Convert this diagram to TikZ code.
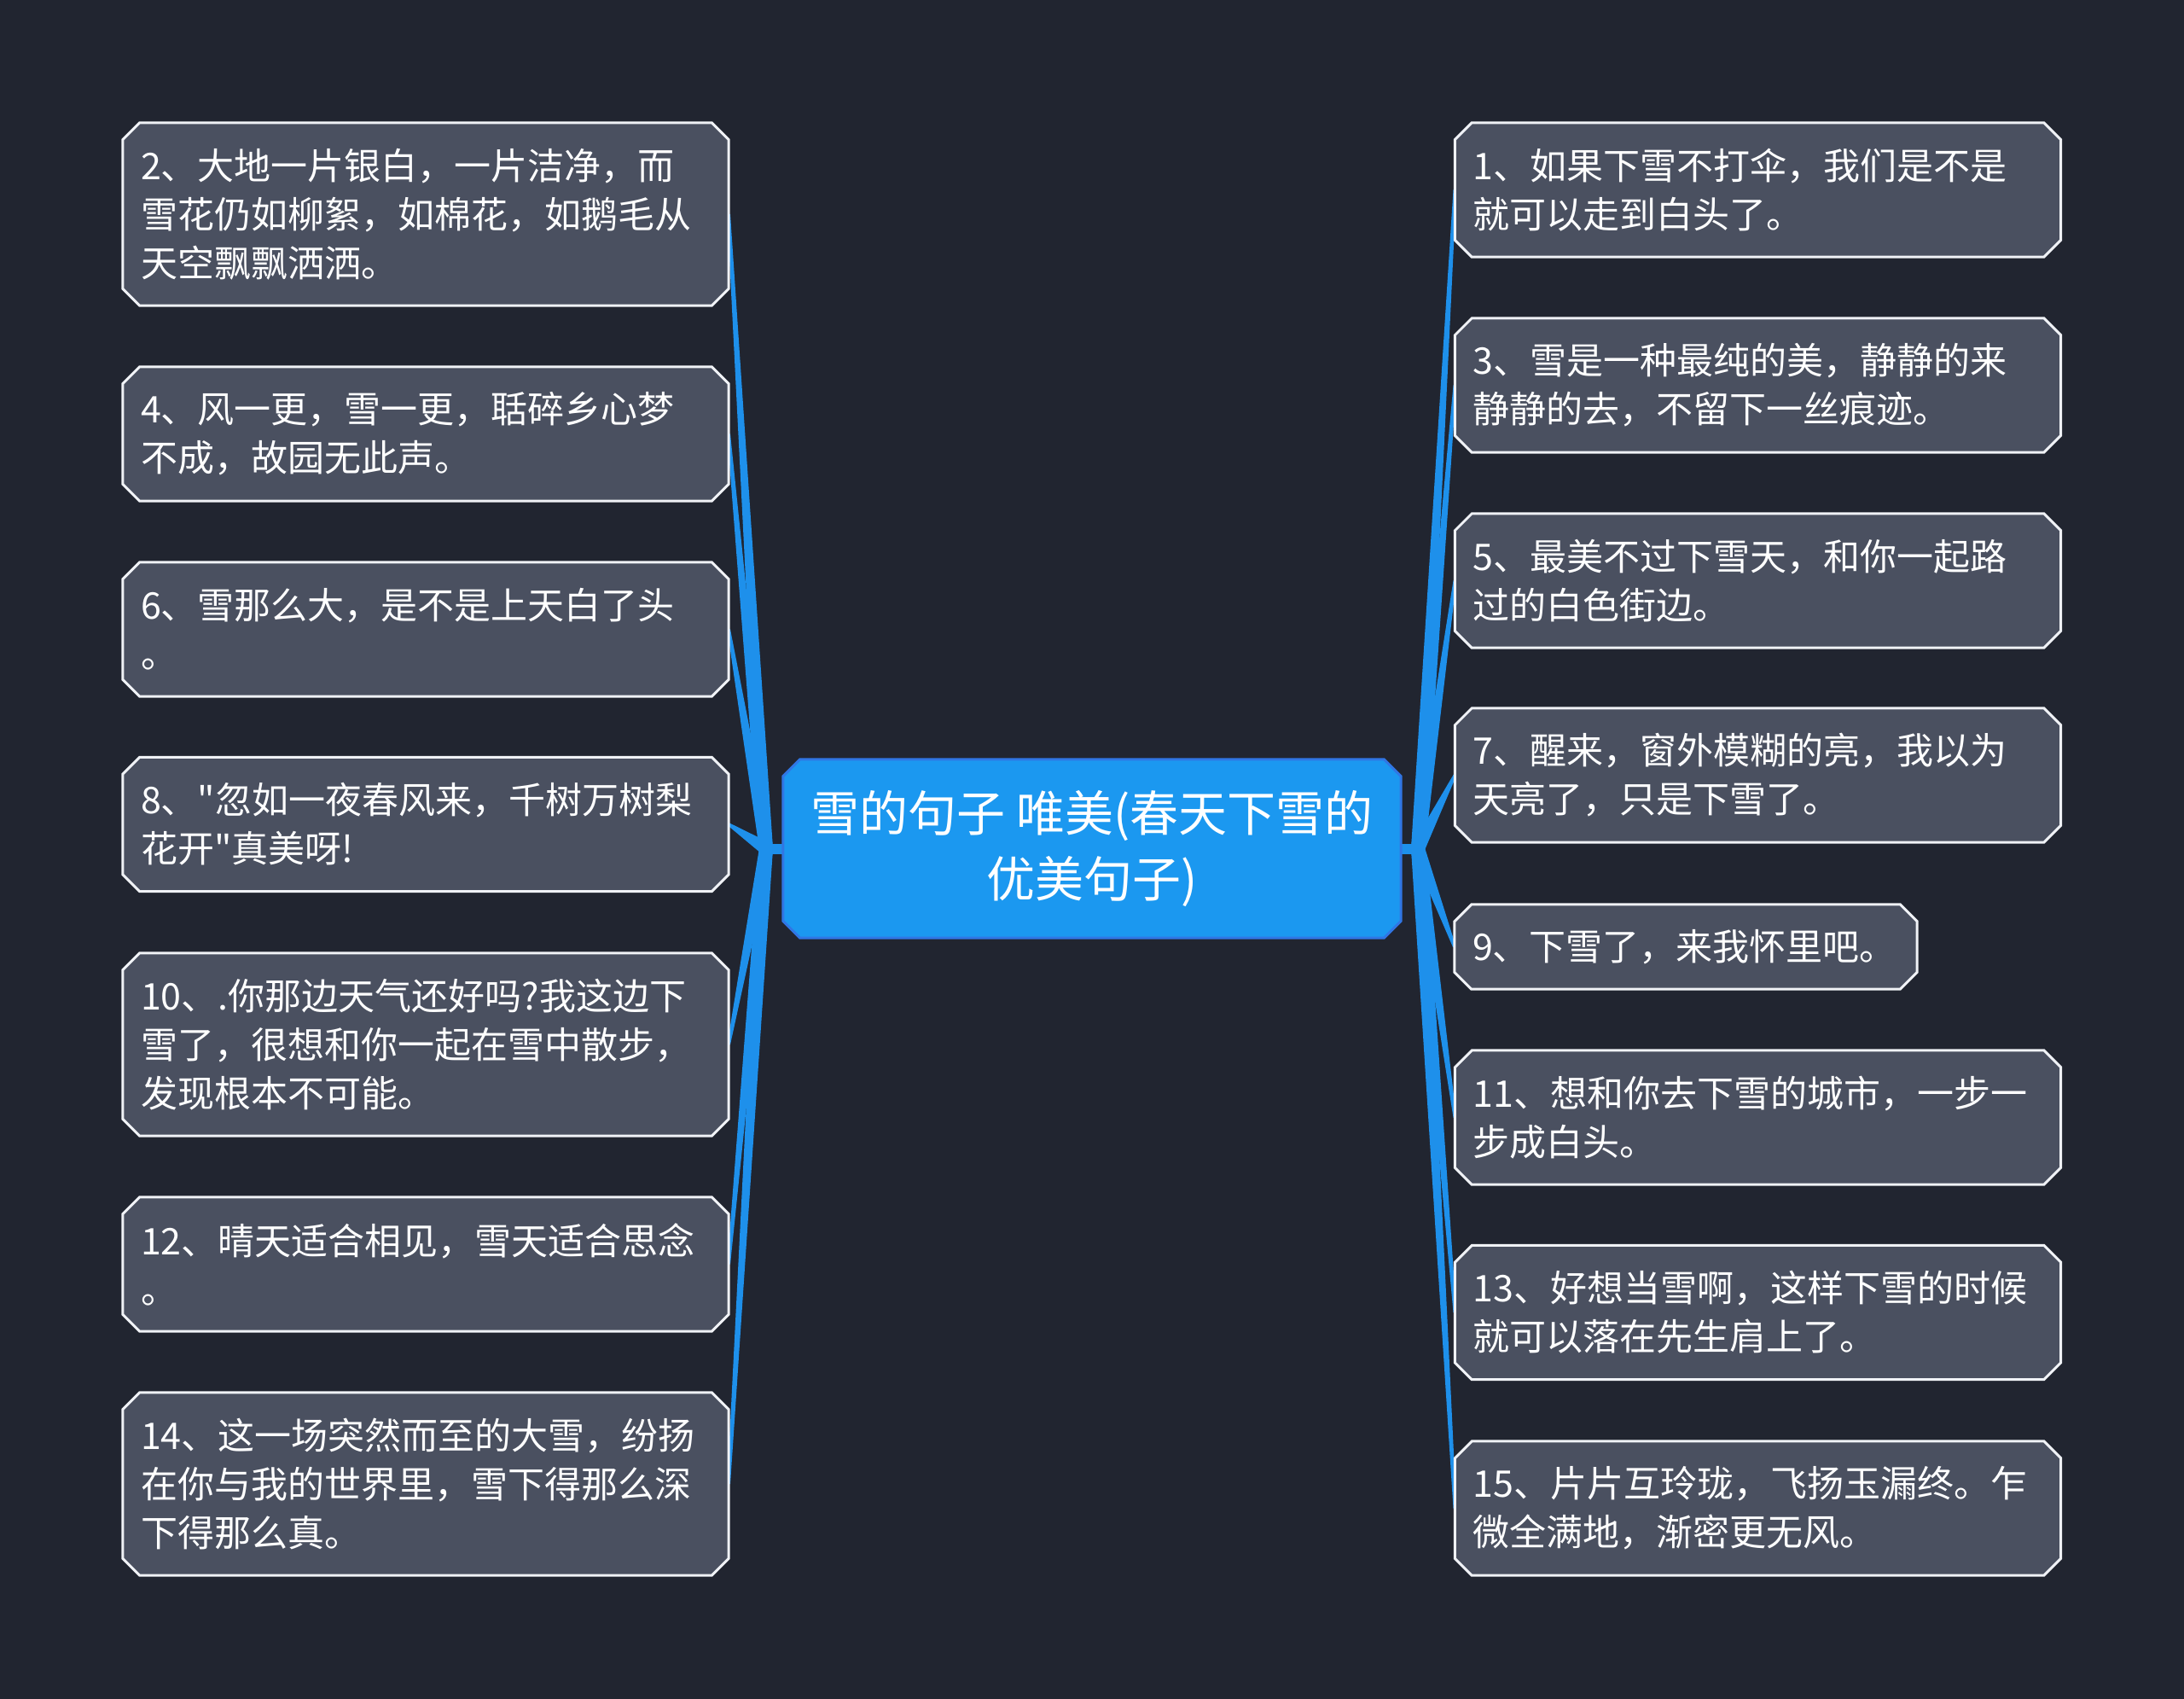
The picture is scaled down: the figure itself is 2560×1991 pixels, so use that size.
\documentclass[tikz,border=0pt]{standalone}
\usepackage{fontspec}
\newfontfamily\cjk{Noto Sans CJK SC}
\usetikzlibrary{calc}
\definecolor{pagebg}{RGB}{33,37,48}
\definecolor{leaffill}{RGB}{74,80,96}
\definecolor{leafline}{RGB}{240,242,246}
\definecolor{rootfill}{RGB}{27,152,240}
\definecolor{rootline}{RGB}{48,118,228}
\definecolor{connblue}{RGB}{30,144,235}
\pgfdeclarelayer{back}
\pgfdeclarelayer{conns}
\pgfdeclarelayer{boxes}
\pgfsetlayers{back,conns,boxes,main}
\tikzset{
  leaf/.style={rectangle, inner xsep=21pt, inner ysep=0pt, text width=668pt,
    align=left, text=white, font=\cjk\fontsize{43}{57}\selectfont},
  leafnine/.style={leaf, text width=500pt},
  root/.style={rectangle, inner sep=0pt, minimum width=724pt, minimum height=209pt,
    align=center, text=white, font=\cjk\fontsize{57}{77}\selectfont},
  leafbox/.style={fill=leaffill, draw=leafline, line width=3pt},
  rootbox/.style={fill=rootfill, draw=rootline, line width=3pt},
  conn/.style={fill=connblue},
  stub/.style={draw=connblue, line width=12pt},
}
\newcommand\chbox[2]{%
  \begin{pgfonlayer}{boxes}
  \path[#2] ([xshift=20pt]#1.north west) -- ([xshift=-20pt]#1.north east)
    -- ([yshift=-20pt]#1.north east) -- ([yshift=20pt]#1.south east)
    -- ([xshift=-20pt]#1.south east) -- ([xshift=20pt]#1.south west)
    -- ([yshift=20pt]#1.south west) -- ([yshift=-20pt]#1.north west) -- cycle;
  \end{pgfonlayer}}
\newcommand\branch[2]{%
  \begin{pgfonlayer}{conns}
  \fill[conn] ($(#1)!8pt!90:(#2)$) -- ($(#2)!1.8pt!-90:(#1)$)
    -- ($(#2)!1.8pt!90:(#1)$) -- ($(#1)!8pt!-90:(#2)$) -- cycle;
  \end{pgfonlayer}}
\begin{document}
\begin{tikzpicture}[x=1pt,y=-1pt]
\begin{pgfonlayer}{back}
\fill[pagebg] (0,0) rectangle (2560,1991);
\end{pgfonlayer}
\useasboundingbox (0,0) rectangle (2560,1991);

% root
\node[root] (root) at (1280,994.5) {雪的句子 唯美(春天下雪的\\优美句子)};
\coordinate (jl) at (898,994.5);
\coordinate (jr) at (1662,994.5);

% left leaves
\node[leaf, minimum height=214pt] (l2) at (499,251) {2、大地一片银白，一片洁净，而\\雪花仍如柳絮，如棉花，如鹅毛从\\天空飘飘洒洒。};
\node[leaf, minimum height=157pt] (l4) at (499,508.5) {4、风一更，雪一更，聒碎乡心梦\\不成，故园无此声。};
\node[leaf, minimum height=157pt] (l6) at (499,737.5) {6、雪那么大，是不是上天白了头\\。};
\node[leaf, minimum height=157pt] (l8) at (499,966) {8、"忽如一夜春风来，千树万树梨\\花开"真美呀!};
\node[leaf, minimum height=214pt] (l10) at (499,1224) {10、.你那边天气还好吗?我这边下\\雪了，很想和你一起在雪中散步，\\发现根本不可能。};
\node[leaf, minimum height=157pt] (l12) at (499,1481.5) {12、晴天适合相见，雪天适合思念\\。};
\node[leaf, minimum height=214pt] (l14) at (499,1739) {14、这一场突然而至的大雪，纷扬\\在你与我的世界里，雪下得那么深\\下得那么真。};

% right leaves
\node[leaf, minimum height=157pt] (r1) at (2060.5,222.5) {1、如果下雪不打伞，我们是不是\\就可以走到白头了。};
\node[leaf, minimum height=157pt] (r3) at (2060.5,451.5) {3、雪是一种最纯的美，静静的来\\静静的去，不留下一丝痕迹。};
\node[leaf, minimum height=157pt] (r5) at (2060.5,680.5) {5、最美不过下雪天，和你一起路\\过的白色街边。};
\node[leaf, minimum height=157pt] (r7) at (2060.5,908.5) {7、醒来，窗外模糊的亮，我以为\\天亮了，只是下雪了。};
\node[leafnine, minimum height=99pt] (r9) at (1976,1109.5) {9、下雪了，来我怀里吧。};
\node[leaf, minimum height=157pt] (r11) at (2060.5,1309.5) {11、想和你去下雪的城市，一步一\\步成白头。};
\node[leaf, minimum height=157pt] (r13) at (2060.5,1538) {13、好想当雪啊，这样下雪的时候\\就可以落在先生肩上了。};
\node[leaf, minimum height=157pt] (r15) at (2060.5,1767.5) {15、片片互玲珑，飞扬玉漏终。乍\\微全满地，渐密更无风。};

% boxes
\chbox{root}{rootbox}
\foreach \n in {l2,l4,l6,l8,l10,l12,l14,r1,r3,r5,r7,r9,r11,r13,r15}{\chbox{\n}{leafbox}}

% connectors
\begin{pgfonlayer}{conns}
\draw[stub] (root.west) -- (jl);
\draw[stub] (root.east) -- (jr);
\end{pgfonlayer}
\foreach \n in {l2,l4,l6,l8,l10,l12,l14}{\branch{jl}{\n.east}}
\foreach \n in {r1,r3,r5,r7,r9,r11,r13,r15}{\branch{jr}{\n.west}}
\end{tikzpicture}
\end{document}
